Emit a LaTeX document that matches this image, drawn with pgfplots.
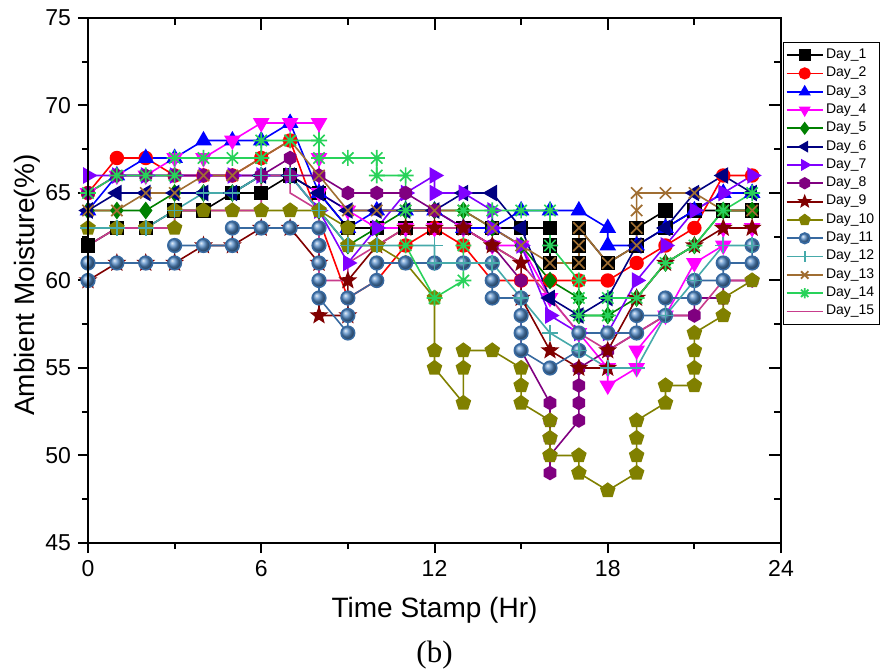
\documentclass[border=0pt]{standalone}
\usepackage{pgfplots}
\pgfplotsset{compat=1.18}
\usepackage{fontspec}
\setmainfont{Liberation Sans}
\newfontfamily\timesfont{Liberation Serif}
\usetikzlibrary{plotmarks}
\definecolor{c1}{RGB}{0,0,0}
\definecolor{c2}{RGB}{255,0,0}
\definecolor{c3}{RGB}{0,0,255}
\definecolor{c4}{RGB}{255,0,255}
\definecolor{c5}{RGB}{0,128,0}
\definecolor{c6}{RGB}{0,0,128}
\definecolor{c7}{RGB}{128,0,255}
\definecolor{c8}{RGB}{128,0,128}
\definecolor{c9}{RGB}{128,0,0}
\definecolor{c10}{RGB}{128,128,0}
\definecolor{c11}{RGB}{55,105,160}
\definecolor{c11b}{RGB}{85,140,200}
\definecolor{c12}{RGB}{70,170,170}
\definecolor{c13}{RGB}{160,110,50}
\definecolor{c14}{RGB}{40,210,90}
\definecolor{c15}{RGB}{200,60,140}
\pgfdeclareplotmark{hexagon*}{%
 \pgfpathmoveto{\pgfpointpolar{90}{\pgfplotmarksize}}%
 \pgfpathlineto{\pgfpointpolar{150}{\pgfplotmarksize}}%
 \pgfpathlineto{\pgfpointpolar{210}{\pgfplotmarksize}}%
 \pgfpathlineto{\pgfpointpolar{270}{\pgfplotmarksize}}%
 \pgfpathlineto{\pgfpointpolar{330}{\pgfplotmarksize}}%
 \pgfpathlineto{\pgfpointpolar{30}{\pgfplotmarksize}}%
 \pgfpathclose\pgfusepathqfillstroke}
\pgfdeclareplotmark{star5*}{%
 \pgfpathmoveto{\pgfpointpolar{90}{\pgfplotmarksize}}%
 \pgfpathlineto{\pgfpointpolar{126}{0.42\pgfplotmarksize}}%
 \pgfpathlineto{\pgfpointpolar{162}{\pgfplotmarksize}}%
 \pgfpathlineto{\pgfpointpolar{198}{0.42\pgfplotmarksize}}%
 \pgfpathlineto{\pgfpointpolar{234}{\pgfplotmarksize}}%
 \pgfpathlineto{\pgfpointpolar{270}{0.42\pgfplotmarksize}}%
 \pgfpathlineto{\pgfpointpolar{306}{\pgfplotmarksize}}%
 \pgfpathlineto{\pgfpointpolar{342}{0.42\pgfplotmarksize}}%
 \pgfpathlineto{\pgfpointpolar{18}{\pgfplotmarksize}}%
 \pgfpathlineto{\pgfpointpolar{54}{0.42\pgfplotmarksize}}%
 \pgfpathclose\pgfusepathqfillstroke}
\pgfdeclareplotmark{ast8}{%
 \pgfpathmoveto{\pgfqpoint{-\pgfplotmarksize}{0pt}}\pgfpathlineto{\pgfqpoint{\pgfplotmarksize}{0pt}}%
 \pgfpathmoveto{\pgfqpoint{0pt}{-\pgfplotmarksize}}\pgfpathlineto{\pgfqpoint{0pt}{\pgfplotmarksize}}%
 \pgfpathmoveto{\pgfpointpolar{45}{\pgfplotmarksize}}\pgfpathlineto{\pgfpointpolar{225}{\pgfplotmarksize}}%
 \pgfpathmoveto{\pgfpointpolar{135}{\pgfplotmarksize}}\pgfpathlineto{\pgfpointpolar{315}{\pgfplotmarksize}}%
 \pgfusepathqstroke}
\begin{document}
\begin{tikzpicture}
\useasboundingbox (-44pt,-62.5pt) rectangle (396.5pt,271.5pt);
\begin{axis}[
  scale only axis, width=346.5pt, height=262.5pt,
  xmin=0, xmax=24, ymin=45, ymax=75,
  xtick={0,6,...,24}, ytick={45,50,...,75},
  minor x tick num=1, minor y tick num=1,
  xtick pos=left, ytick pos=left,
  tick align=outside,
  major tick length=5pt, minor tick length=3pt,
  axis line style={line width=1pt},
  every tick/.style={black, line width=1pt},
  tick label style={font=\fontsize{11.5}{12}\selectfont},
  /pgf/number format/assume math mode=true,
  xlabel={Time Stamp (Hr)}, ylabel={Ambient Moisture(\%)},
  label style={font=\fontsize{14}{15}\selectfont},
  xlabel style={at={(axis description cs:0.5,-0.128)}, anchor=center},
  ylabel style={at={(axis description cs:-0.087,0.491)}, anchor=center},
  every axis plot/.append style={line width=0.8pt, mark size=3.2pt},
  legend style={at={(rel axis cs:1,1)}, anchor=north west, xshift=1pt, yshift=-12pt,
    font=\fontsize{7}{8}\selectfont, draw=black,
    row sep=-1.2pt, inner sep=1.2pt, nodes={inner xsep=1.2pt}, cells={anchor=west}},
  legend image code/.code={\draw[mark repeat=2,mark phase=2,#1,line width=0.9pt,mark size=2.6pt] plot coordinates {(0pt,0pt) (9pt,0pt) (18pt,0pt)};},
  clip=false,
]
\addplot[c1, mark=square*, mark options={fill=c1}] coordinates {(0,62)(1,63)(2,63)(3,64)(4,64)(5,65)(6,65)(7,66)(8,65)(9,63)(10,63)(11,63)(12,63)(13,63)(14,63)(15,63)(16,63)(16,62)(16,61)(17,61)(17,62)(17,63)(18,61)(19,62)(19,63)(20,64)(20,63)(21,64)(22,64)(23,64)};
\addlegendentry{Day\_1}
\addplot[c2, mark=*, mark options={fill=c2}] coordinates {(0,65)(1,67)(2,67)(3,66)(4,66)(5,66)(6,67)(7,68)(9,59)(10,60)(11,62)(12,63)(13,62)(14,60)(15,60)(16,60)(17,60)(18,60)(19,61)(20,62)(21,63)(22,66)(23,66)};
\addlegendentry{Day\_2}
\addplot[c3, mark=triangle*, mark size=4pt, mark options={fill=c3}] coordinates {(0,64)(1,66)(2,67)(3,67)(4,68)(5,68)(6,68)(7,69)(8,65)(9,63)(10,64)(11,64)(12,64)(13,63)(14,63)(15,64)(16,64)(17,64)(18,63)(18,62)(19,62)(20,63)(21,64)(22,65)(23,65)};
\addlegendentry{Day\_3}
\addplot[c4, mark=triangle*, mark size=4pt, mark options={fill=c4, rotate=180}] coordinates {(0,65)(1,66)(2,66)(3,67)(4,67)(5,68)(6,69)(7,69)(8,69)(8,67)(8,65)(9,64)(10,63)(11,63)(12,63)(13,63)(14,62)(15,62)(16,59)(17,57)(18,55)(18,54)(19,55)(19,56)(20,58)(21,61)(22,62)(22,63)(23,63)};
\addlegendentry{Day\_4}
\addplot[c5, mark=diamond*, mark size=3.8pt, mark options={fill=c5}] coordinates {(0,64)(1,64)(2,64)(3,65)(4,65)(5,65)(6,66)(7,66)(8,64)(9,62)(10,63)(11,64)(12,64)(13,64)(14,63)(15,62)(16,60)(17,59)(17,58)(18,58)(19,59)(20,61)(21,62)(22,64)(23,64)};
\addlegendentry{Day\_5}
\addplot[c6, mark=triangle*, mark size=4pt, mark options={fill=c6, rotate=90}] coordinates {(0,64)(1,65)(2,65)(3,65)(4,65)(5,65)(6,66)(7,66)(8,65)(9,64)(10,64)(11,64)(12,64)(13,65)(14,65)(15,63)(16,59)(17,58)(18,59)(19,62)(20,63)(21,65)(22,66)(23,65)};
\addlegendentry{Day\_6}
\addplot[c7, mark=triangle*, mark size=4pt, mark options={fill=c7, rotate=-90}] coordinates {(0,66)(1,66)(2,66)(3,66)(4,66)(5,66)(6,66)(7,66)(8,64)(9,61)(10,63)(11,65)(12,66)(12,65)(13,65)(14,64)(14,63)(15,62)(16,58)(17,57)(18,57)(19,60)(20,62)(21,64)(22,65)(23,66)};
\addlegendentry{Day\_7}
\addplot[c8, mark=hexagon*, mark options={fill=c8}] coordinates {(0,65)(1,66)(2,66)(3,66)(4,66)(5,66)(6,66)(7,67)(7,66)(8,66)(9,65)(10,65)(11,65)(12,64)(13,63)(14,62)(15,60)(15,58)(15,56)(16,53)(16,52)(16,51)(16,49)(16,50)(17,52)(17,53)(17,54)(17,55)(18,56)(19,57)(20,58)(21,58)(21,59)(22,59)(22,60)(23,60)};
\addlegendentry{Day\_8}
\addplot[c9, mark=star5*, mark size=3.8pt, mark options={fill=c9}] coordinates {(0,60)(1,61)(2,61)(3,61)(4,62)(5,62)(6,63)(7,63)(8,61)(8,58)(9,58)(9,60)(10,62)(11,63)(12,63)(13,63)(14,62)(15,61)(15,59)(16,56)(17,55)(18,55)(18,56)(19,59)(20,61)(21,62)(22,63)(23,63)};
\addlegendentry{Day\_9}
\addplot[c10, mark=pentagon*, mark size=3.6pt, mark options={fill=c10}] coordinates {(0,63)(1,63)(2,63)(3,63)(3,64)(4,64)(5,64)(6,64)(7,64)(8,64)(9,63)(9,62)(10,62)(11,61)(12,59)(12,56)(12,55)(13,53)(13,55)(13,56)(14,56)(15,55)(15,54)(15,53)(16,52)(16,51)(16,50)(17,50)(17,49)(18,48)(19,49)(19,50)(19,51)(19,52)(20,53)(20,54)(21,54)(21,55)(21,56)(21,57)(22,58)(22,59)(23,60)};
\addlegendentry{Day\_10}
\addplot[c11, mark=ball, mark size=3.4pt, mark options={ball color=c11b}] coordinates {(0,60)(0,61)(1,61)(2,61)(3,61)(3,62)(4,62)(5,62)(5,63)(6,63)(7,63)(8,63)(8,62)(8,61)(8,60)(8,59)(9,57)(9,58)(9,59)(10,60)(10,61)(11,61)(12,61)(13,61)(14,61)(14,60)(14,59)(15,59)(15,58)(15,57)(15,56)(16,55)(17,56)(17,57)(18,57)(19,57)(19,58)(20,58)(20,59)(21,59)(21,60)(22,60)(22,61)(23,61)(23,62)};
\addlegendentry{Day\_11}
\addplot[c12, mark=+, mark size=4pt] coordinates {(0,63)(1,63)(2,63)(3,64)(4,65)(5,65)(6,66)(7,66)(8,64)(9,62)(10,62)(11,62)(12,62)(12,61)(13,61)(14,61)(15,59)(16,57)(17,56)(18,55)(19,55)(20,58)(21,60)(22,62)(23,62)};
\addlegendentry{Day\_12}
\addplot[c13, mark=x, mark size=4pt] coordinates {(0,64)(1,64)(2,65)(3,65)(4,66)(5,66)(6,67)(7,68)(8,66)(9,64)(10,64)(11,64)(12,64)(13,64)(14,63)(15,62)(16,61)(17,61)(17,62)(17,63)(18,61)(19,62)(19,63)(19,64)(19,65)(20,65)(21,65)(22,64)(23,64)};
\addlegendentry{Day\_13}
\addplot[c14, mark=ast8, mark size=4pt] coordinates {(0,65)(1,66)(2,66)(3,66)(3,67)(4,67)(5,67)(6,67)(6,68)(7,68)(8,68)(8,67)(9,67)(10,67)(10,66)(11,66)(11,64)(11,62)(12,59)(13,60)(13,62)(13,64)(14,64)(15,64)(16,64)(16,62)(17,60)(17,59)(17,58)(18,58)(18,59)(19,59)(20,61)(21,62)(22,64)(23,65)};
\addlegendentry{Day\_14}
\addplot[c15, no marks] coordinates {(0,61)(0,62)(1,63)(2,63)(3,63)(3,64)(4,64)(5,64)(6,64)(6,66)(7,66)(7,65)(8,64)(8,60)(9,60)(9,61)(10,62)(11,63)(12,63)(13,63)(14,62)(15,61)(16,59)(17,57)(18,56)(19,57)(20,58)(21,58)(22,60)(23,60)};
\addlegendentry{Day\_15}
\node[font=\timesfont\fontsize{15.5}{16}\selectfont] at (axis description cs:0.5,-0.213) {(b)};
\end{axis}
\begin{axis}[
  scale only axis, width=346.5pt, height=262.5pt,
  xmin=0, xmax=24, ymin=45, ymax=75,
  xtick={0,6,...,24}, ytick={45,50,...,75},
  minor x tick num=1, minor y tick num=1,
  xtick pos=right, ytick pos=right,
  tick align=inside,
  major tick length=6pt, minor tick length=3.3pt,
  axis line style={line width=1pt},
  every tick/.style={black, line width=1pt},
  xticklabels={}, yticklabels={},
]
\end{axis}
\end{tikzpicture}
\end{document}
